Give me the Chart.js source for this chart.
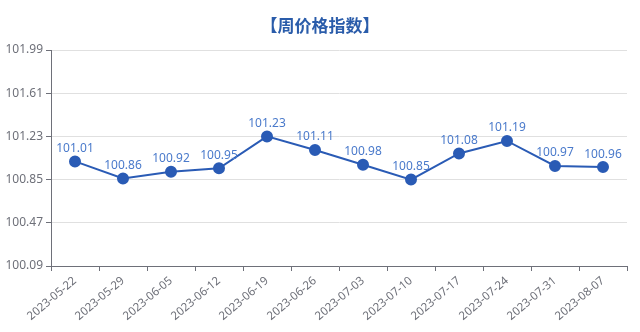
<!DOCTYPE html>
<html>
<head>
<meta charset="utf-8">
<script src="https://cdn.jsdelivr.net/npm/chart.js@4.4.0/dist/chart.umd.min.js"></script>
<style>
  html, body { margin: 0; padding: 0; background: #fff; }
  #wrap { width: 640px; height: 332px; position: relative; }
</style>
</head>
<body>
<div id="wrap"><canvas id="myChart"></canvas></div>
<script>
var weeks = ["2023-05-22", "2023-05-29", "2023-06-05", "2023-06-12", "2023-06-19", "2023-06-26",
             "2023-07-03", "2023-07-10", "2023-07-17", "2023-07-24", "2023-07-31", "2023-08-07"];
var priceIndex = [101.01, 100.86, 100.92, 100.95, 101.23, 101.11, 100.98, 100.85, 101.08, 101.19, 100.97, 100.96];
var yTicks = [100.09, 100.47, 100.85, 101.23, 101.61, 101.99];
var chartTitle = "【周价格指数】";

var lineColor = '#2a5bb5';
var labelColor = '#4a7acb';
var axisColor = '#6e7079';

// title text above the plot
var titlePlugin = {
  id: 'topTitle',
  afterDraw: function (chart) {
    var ctx = chart.ctx;
    ctx.save();
    ctx.font = 'bold 17px "Noto Sans CJK SC", sans-serif';
    ctx.fillStyle = '#2a5caa';
    ctx.textAlign = 'center';
    ctx.textBaseline = 'middle';
    ctx.fillText(chartTitle, 320, 26);
    ctx.restore();
  }
};

// value labels over each point
var valueLabels = {
  id: 'valueLabels',
  afterDatasetsDraw: function (chart) {
    var ctx = chart.ctx;
    var meta = chart.getDatasetMeta(0);
    ctx.save();
    ctx.font = '12px "Noto Sans", sans-serif';
    ctx.fillStyle = labelColor;
    ctx.textAlign = 'center';
    ctx.textBaseline = 'bottom';
    meta.data.forEach(function (pt, i) {
      ctx.fillText(priceIndex[i].toFixed(2), pt.x, pt.y - 7);
    });
    ctx.restore();
  }
};

var ctx = document.getElementById('myChart');
var myChart = new Chart(ctx, {
  type: 'line',
  data: {
    labels: weeks,
    datasets: [{
      label: '周价格指数',
      data: priceIndex,
      borderColor: lineColor,
      backgroundColor: lineColor,
      borderWidth: 2,
      pointRadius: 5,
      pointHoverRadius: 5,
      pointBackgroundColor: lineColor,
      pointBorderColor: lineColor,
      tension: 0
    }]
  },
  options: {
    responsive: true,
    maintainAspectRatio: false,
    animation: false,
    layout: { padding: { top: 50, right: 13, left: 0, bottom: 0 } },
    plugins: {
      legend: { display: false },
      title: { display: false },
      tooltip: { enabled: false }
    },
    scales: {
      x: {
        offset: true,
        grid: {
          offset: true,
          drawOnChartArea: false,
          drawTicks: true,
          tickLength: 5,
          tickColor: axisColor
        },
        border: { display: true, color: axisColor, width: 1 },
        ticks: {
          autoSkip: false,
          maxRotation: 40,
          minRotation: 40,
          color: axisColor,
          padding: 3,
          font: { size: 11.5, family: '"Noto Sans", sans-serif' }
        },
        afterFit: function (scale) { scale.height = 66; }
      },
      y: {
        min: yTicks[0],
        max: yTicks[yTicks.length - 1],
        afterBuildTicks: function (scale) {
          scale.ticks = yTicks.map(function (v) { return { value: v }; });
        },
        grid: {
          color: '#e0e0e0',
          tickColor: axisColor,
          tickLength: 5,
          drawTicks: true
        },
        border: { display: true, color: axisColor, width: 1 },
        ticks: {
          color: axisColor,
          padding: 3,
          font: { size: 12, family: '"Noto Sans", sans-serif' },
          callback: function (v) { return Number(v).toFixed(2); }
        },
        afterFit: function (scale) { scale.width = 51; }
      }
    }
  },
  plugins: [titlePlugin, valueLabels]
});
</script>
</body>
</html>
